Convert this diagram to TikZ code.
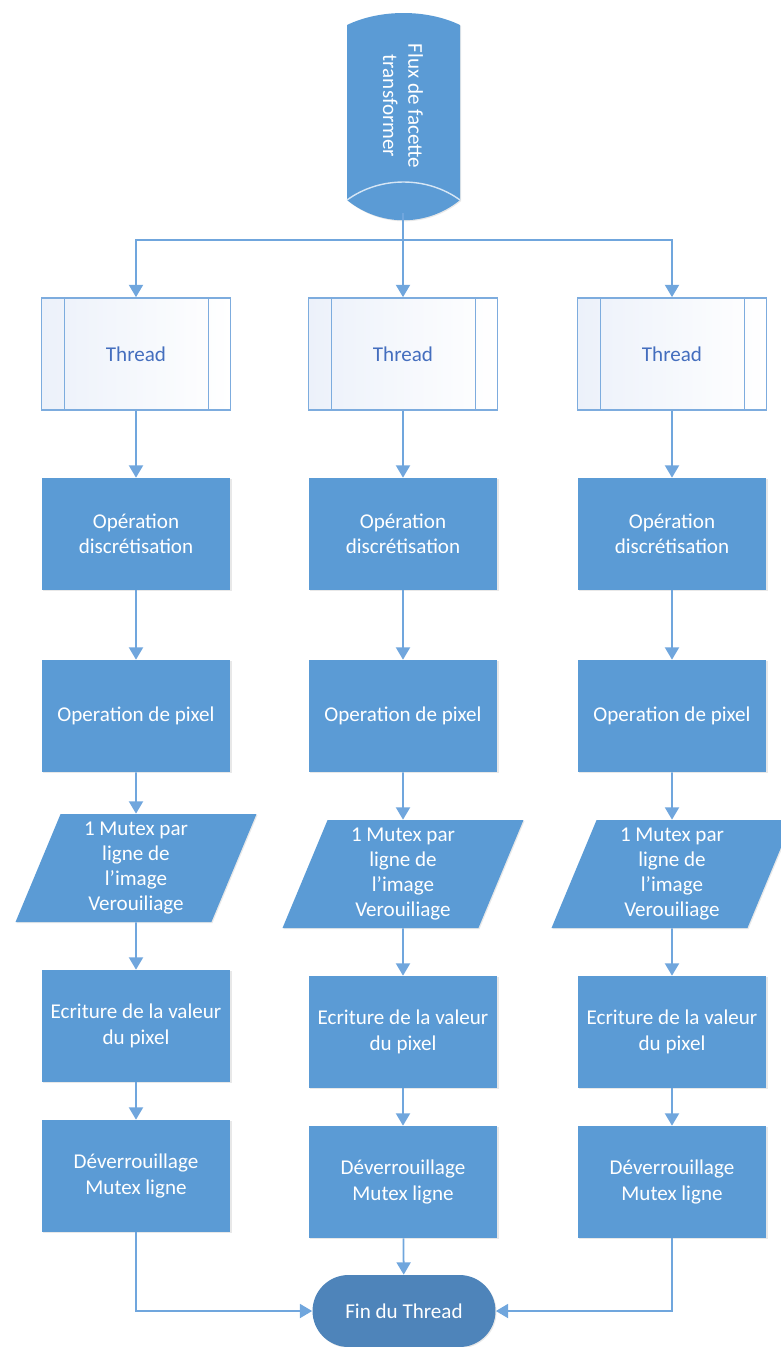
\documentclass[tikz,border=0pt]{standalone}
\usepackage{fontspec}
\setmainfont{Carlito}
\usetikzlibrary{positioning,arrows.meta,shapes.geometric,shapes.misc,shadows}

\definecolor{boxblue}{RGB}{91,155,213}
\definecolor{endblue}{RGB}{78,132,186}
\definecolor{lineblue}{RGB}{112,166,221}
\definecolor{threadtext}{RGB}{68,110,190}
\definecolor{threadline}{RGB}{125,172,222}
\definecolor{threadfill}{RGB}{236,241,250}

\tikzset{
  boxfont/.style={font=\fontsize{12}{14.4}\selectfont},
  task/.style={rectangle, boxfont, fill=boxblue, text=white, align=center,
    minimum width=3.78cm, minimum height=2.24cm,
    drop shadow={opacity=0.18, shadow xshift=0.6pt, shadow yshift=-0.6pt}},
  thread/.style={rectangle, boxfont, draw=threadline, line width=1pt,
    left color=threadfill, right color=white, text=threadtext,
    minimum width=3.78cm, minimum height=2.24cm,
    path picture={
      \draw[threadline, line width=1pt]
        ([xshift=0.46cm]path picture bounding box.north west) --
        ([xshift=0.46cm]path picture bounding box.south west);
      \draw[threadline, line width=1pt]
        ([xshift=-0.44cm]path picture bounding box.north east) --
        ([xshift=-0.44cm]path picture bounding box.south east);}},
  lock/.style={trapezium, trapezium left angle=65, trapezium right angle=115,
    trapezium stretches body, boxfont, fill=boxblue, text=white, align=center,
    inner sep=1pt, minimum width=4.82cm, minimum height=2.16cm,
    drop shadow={opacity=0.18, shadow xshift=0.6pt, shadow yshift=-0.6pt}},
  finbox/.style={rounded rectangle, boxfont, fill=endblue, text=white,
    minimum width=3.66cm, minimum height=1.44cm, inner xsep=0pt,
    drop shadow={opacity=0.18, shadow xshift=0.6pt, shadow yshift=-0.6pt}},
  arr/.style={draw=lineblue, line width=1pt, -{Triangle[length=7pt,width=8pt]}},
  link/.style={draw=lineblue, line width=1pt}
}

\begin{document}
\begin{tikzpicture}[x=0.02cm,y=-0.02cm]
  \useasboundingbox (0,0) rectangle (781,1347);

  % source des facettes
  \fill[boxblue, drop shadow={opacity=0.18, shadow xshift=0.6pt, shadow yshift=-0.6pt}]
    (347,25) .. controls (380,9) and (427,9) .. (460,25) -- (460,200)
    .. controls (427,227) and (380,227) .. (347,200) -- cycle;
  \draw[white!75!boxblue, line width=0.8pt]
    (347,200) .. controls (380,176) and (427,176) .. (460,200);
  \node[boxfont, text=white, align=center, rotate=-90] (flux) at (403,106)
    {Flux de facette\\transformer};
  \coordinate (src) at (403,213);
  \coordinate (split) at (403,240);

  % trois colonnes
  \foreach \i/\x/\d in {1/136/0, 2/403/6, 3/672/6} {
    \node[thread] (th\i) at (\x,354) {Thread};
    \node[task] (op\i) at (\x,534) {Opération\\discrétisation};
    \node[task] (px\i) at (\x,716) {Operation de pixel};
    \node[lock] (mx\i) at (\x,868+\d) {1 Mutex par\\ligne de\\l’image\\Verouiliage};
    \node[task] (ec\i) at (\x,1026+\d) {Ecriture de la valeur\\du pixel};
    \node[task] (dv\i) at (\x,1176+\d) {Déverrouillage\\Mutex ligne};

    \draw[arr] (th\i) -- (op\i);
    \draw[arr] (op\i) -- (px\i);
    \draw[arr] (px\i) -- (mx\i);
    \draw[arr] (mx\i) -- (ec\i);
    \draw[arr] (ec\i) -- (dv\i);
  }

  \node[finbox] (fin) at (404,1311) {Fin du Thread};

  \draw[link] (src) -- (split);
  \draw[arr] (split) -- (th2);
  \draw[arr] (split) -| (th1);
  \draw[arr] (split) -| (th3);

  \draw[arr] (dv1) |- (fin);
  \draw[arr] (dv2) -- (fin);
  \draw[arr] (dv3) |- (fin);
\end{tikzpicture}
\end{document}
